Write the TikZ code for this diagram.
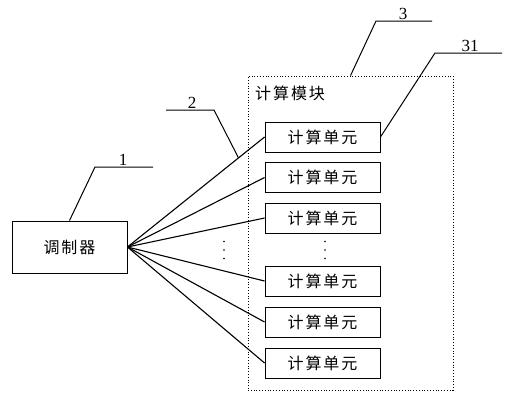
\documentclass[tikz,border=0pt]{standalone}
\usepackage{fontspec}
\setmainfont{Liberation Serif}
\newfontfamily\cjk[LetterSpace=12]{Noto Sans CJK SC}
\begin{document}
\begin{tikzpicture}[x=1pt,y=-1pt,
  box/.style={draw,line width=0.9pt,minimum width=115pt,inner sep=0pt,font=\cjk\fontsize{16}{18}\selectfont},
  unit/.style={box,minimum height=30pt},
  fan/.style={line width=1.1pt},
  leader/.style={line width=1pt},
  num/.style={font=\fontsize{17}{19}\selectfont,inner sep=1pt,anchor=south}]
\useasboundingbox (0,0) rectangle (518,400);
\node[draw,dotted,line width=0.8pt,minimum width=205pt,minimum height=314pt,inner sep=0pt] (cm) at (350.5,233) {};
\node[anchor=west,inner sep=0pt,font=\cjk\fontsize{16}{18}\selectfont] (title) at (255,93) {计算模块};
\node[box,minimum height=52pt] (mod) at (69.5,247) {调制器};
\foreach \i/\y in {1/137,2/177.5,3/218,4/281,5/322,6/363}{
  \node[unit] (u\i) at (322.5,\y) {计算单元};
  \draw[fan] (mod.east) -- (u\i.west);
}
\foreach \y in {241.5,250,258.5}{
  \fill (325,\y) circle (0.9pt);
  \fill (224,\y) circle (0.9pt);
}
\path (mod.east) -- (u1.west) coordinate[pos=0.81] (p2);
\draw[leader] (mod.north) -- (95,167) -- (153,167);
\node[num] (n1) at (123,167) {1};
\draw[leader] (p2) -- (214,110) -- (166,110);
\node[num] (n2) at (192,110) {2};
\draw[leader] (cm.north) -- (376,21) -- (432,21);
\node[num] (n3) at (403,21) {3};
\draw[leader] (u1.east) -- (435,53) -- (502,53);
\node[num] (n31) at (470,53) {31};
\end{tikzpicture}
\end{document}
